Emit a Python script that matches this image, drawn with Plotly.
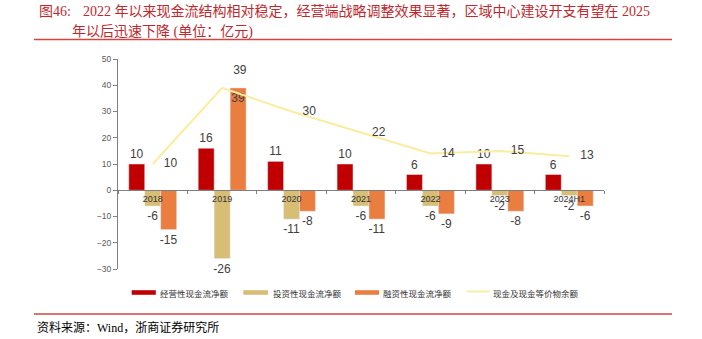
import plotly.graph_objects as go

categories = ["2018", "2019", "2020", "2021", "2022", "2023", "2024H1"]
operating = [10, 16, 11, 10, 6, 10, 6]
investing = [-6, -26, -11, -6, -6, -2, -2]
financing = [-15, 39, -8, -11, -9, -8, -6]
cash_balance = [10, 39, 30, 22, 14, 15, 13]
series_names = ["经营性现金流净额", "投资性现金流净额", "融资性现金流净额", "现金及现金等价物余额"]
y_ticks = [-30, -20, -10, 0, 10, 20, 30, 40, 50]

colors = ["#C00000", "#D8BD74", "#EA7D40", "#FBEC9E"]
W, H = 702, 339
L, R, T, B = 118, 98, 59, 70
pw, ph = W - L - R, H - T - B


def px(x):
    return (x - L) / pw


def py(y):
    return (H - B - y) / ph


label_font = dict(family="Arial, Liberation Sans", size=12, color="#404040")

fig = go.Figure()
fig.add_trace(go.Bar(x=categories, y=operating, name=series_names[0], marker_color=colors[0],
                     text=[str(v) for v in operating], textposition="outside",
                     textfont=label_font, constraintext="none", cliponaxis=False))
fig.add_trace(go.Bar(x=categories, y=investing, name=series_names[1], marker_color=colors[1],
                     text=[str(v) for v in investing], textposition="outside",
                     textfont=label_font, constraintext="none", cliponaxis=False))
fin_pos = ["inside" if v == max(financing) else "outside" for v in financing]
fig.add_trace(go.Bar(x=categories, y=financing, name=series_names[2], marker_color=colors[2],
                     text=[str(v) for v in financing], textposition=fin_pos,
                     insidetextanchor="end",
                     textfont=label_font, insidetextfont=label_font, outsidetextfont=label_font,
                     constraintext="none", cliponaxis=False))
line_pos = ["top right" if v == max(cash_balance) else "middle right" for v in cash_balance]
fig.add_trace(go.Scatter(x=categories, y=cash_balance, name=series_names[3], mode="lines+markers+text",
                         line=dict(color=colors[3], width=2),
                         marker=dict(size=16, color="rgba(0,0,0,0)"),
                         text=[str(v) for v in cash_balance], textposition=line_pos,
                         textfont=label_font, cliponaxis=False))

fig.update_layout(
    width=W, height=H,
    margin=dict(l=L, r=R, t=T, b=B),
    paper_bgcolor="white", plot_bgcolor="white",
    barmode="group", bargap=0.31, bargroupgap=0,
    showlegend=False,
    xaxis=dict(type="category", anchor="free", position=0.375, showline=True,
               linecolor="#7F7F7F", linewidth=1, ticks="outside", tickson="boundaries",
               ticklen=3, tickcolor="#7F7F7F", showgrid=False, zeroline=False,
               tickfont=dict(family="Arial, Liberation Sans", size=9, color="#333333")),
    yaxis=dict(range=[-30, 50], tickvals=y_ticks, showline=True, linecolor="#7F7F7F",
               linewidth=1, ticks="outside", ticklen=4, tickcolor="#7F7F7F",
               showgrid=False, zeroline=False,
               tickfont=dict(family="Arial, Liberation Sans", size=8.5, color="#595959")),
)

# manual legend
leg_items = [(131.7, 155.8, 157.7, "bar"), (243.3, 268.0, 270.5, "bar"),
             (355.0, 379.0, 380.7, "bar"), (466.5, 489.5, 490.7, "line")]
leg_y = 292.5
for i, (x0, x1, tx, kind) in enumerate(leg_items):
    if kind == "bar":
        fig.add_shape(type="rect", xref="paper", yref="paper", x0=px(x0), x1=px(x1),
                      y0=py(leg_y - 2.3), y1=py(leg_y + 2.3), fillcolor=colors[i],
                      line=dict(width=0))
    else:
        fig.add_shape(type="line", xref="paper", yref="paper", x0=px(x0), x1=px(x1),
                      y0=py(leg_y - 1), y1=py(leg_y - 1), line=dict(color=colors[i], width=2))
    fig.add_annotation(xref="paper", yref="paper", x=px(tx), y=py(leg_y), text=series_names[i],
                       showarrow=False, xanchor="left", yanchor="middle",
                       font=dict(family="Noto Sans CJK SC", size=8.5, color="#333333"))

title_font = dict(family="Liberation Serif, Noto Sans CJK SC", size=14, color="#C0282D")
fig.add_annotation(xref="paper", yref="paper", x=px(37), y=py(12), text="图46:",
                   showarrow=False, xanchor="left", yanchor="middle", font=title_font)
fig.add_annotation(xref="paper", yref="paper", x=px(81), y=py(12),
                   text="2022 年以来现金流结构相对稳定，经营端战略调整效果显著，区域中心建设开支有望在 2025",
                   showarrow=False, xanchor="left", yanchor="middle", font=title_font)
fig.add_annotation(xref="paper", yref="paper", x=px(70), y=py(32),
                   text="年以后迅速下降 (单位：亿元)",
                   showarrow=False, xanchor="left", yanchor="middle", font=title_font)

for yy in (39.5, 314):
    fig.add_shape(type="line", xref="paper", yref="paper", x0=px(34), x1=px(672),
                  y0=py(yy), y1=py(yy), line=dict(color="#D5443F", width=1.5))

fig.add_annotation(xref="paper", yref="paper", x=px(35), y=py(327.5),
                   text="资料来源：Wind，浙商证券研究所", showarrow=False,
                   xanchor="left", yanchor="middle",
                   font=dict(family="Liberation Serif, Noto Sans CJK SC", size=12, color="#000000"))

fig.write_html("out.html")
